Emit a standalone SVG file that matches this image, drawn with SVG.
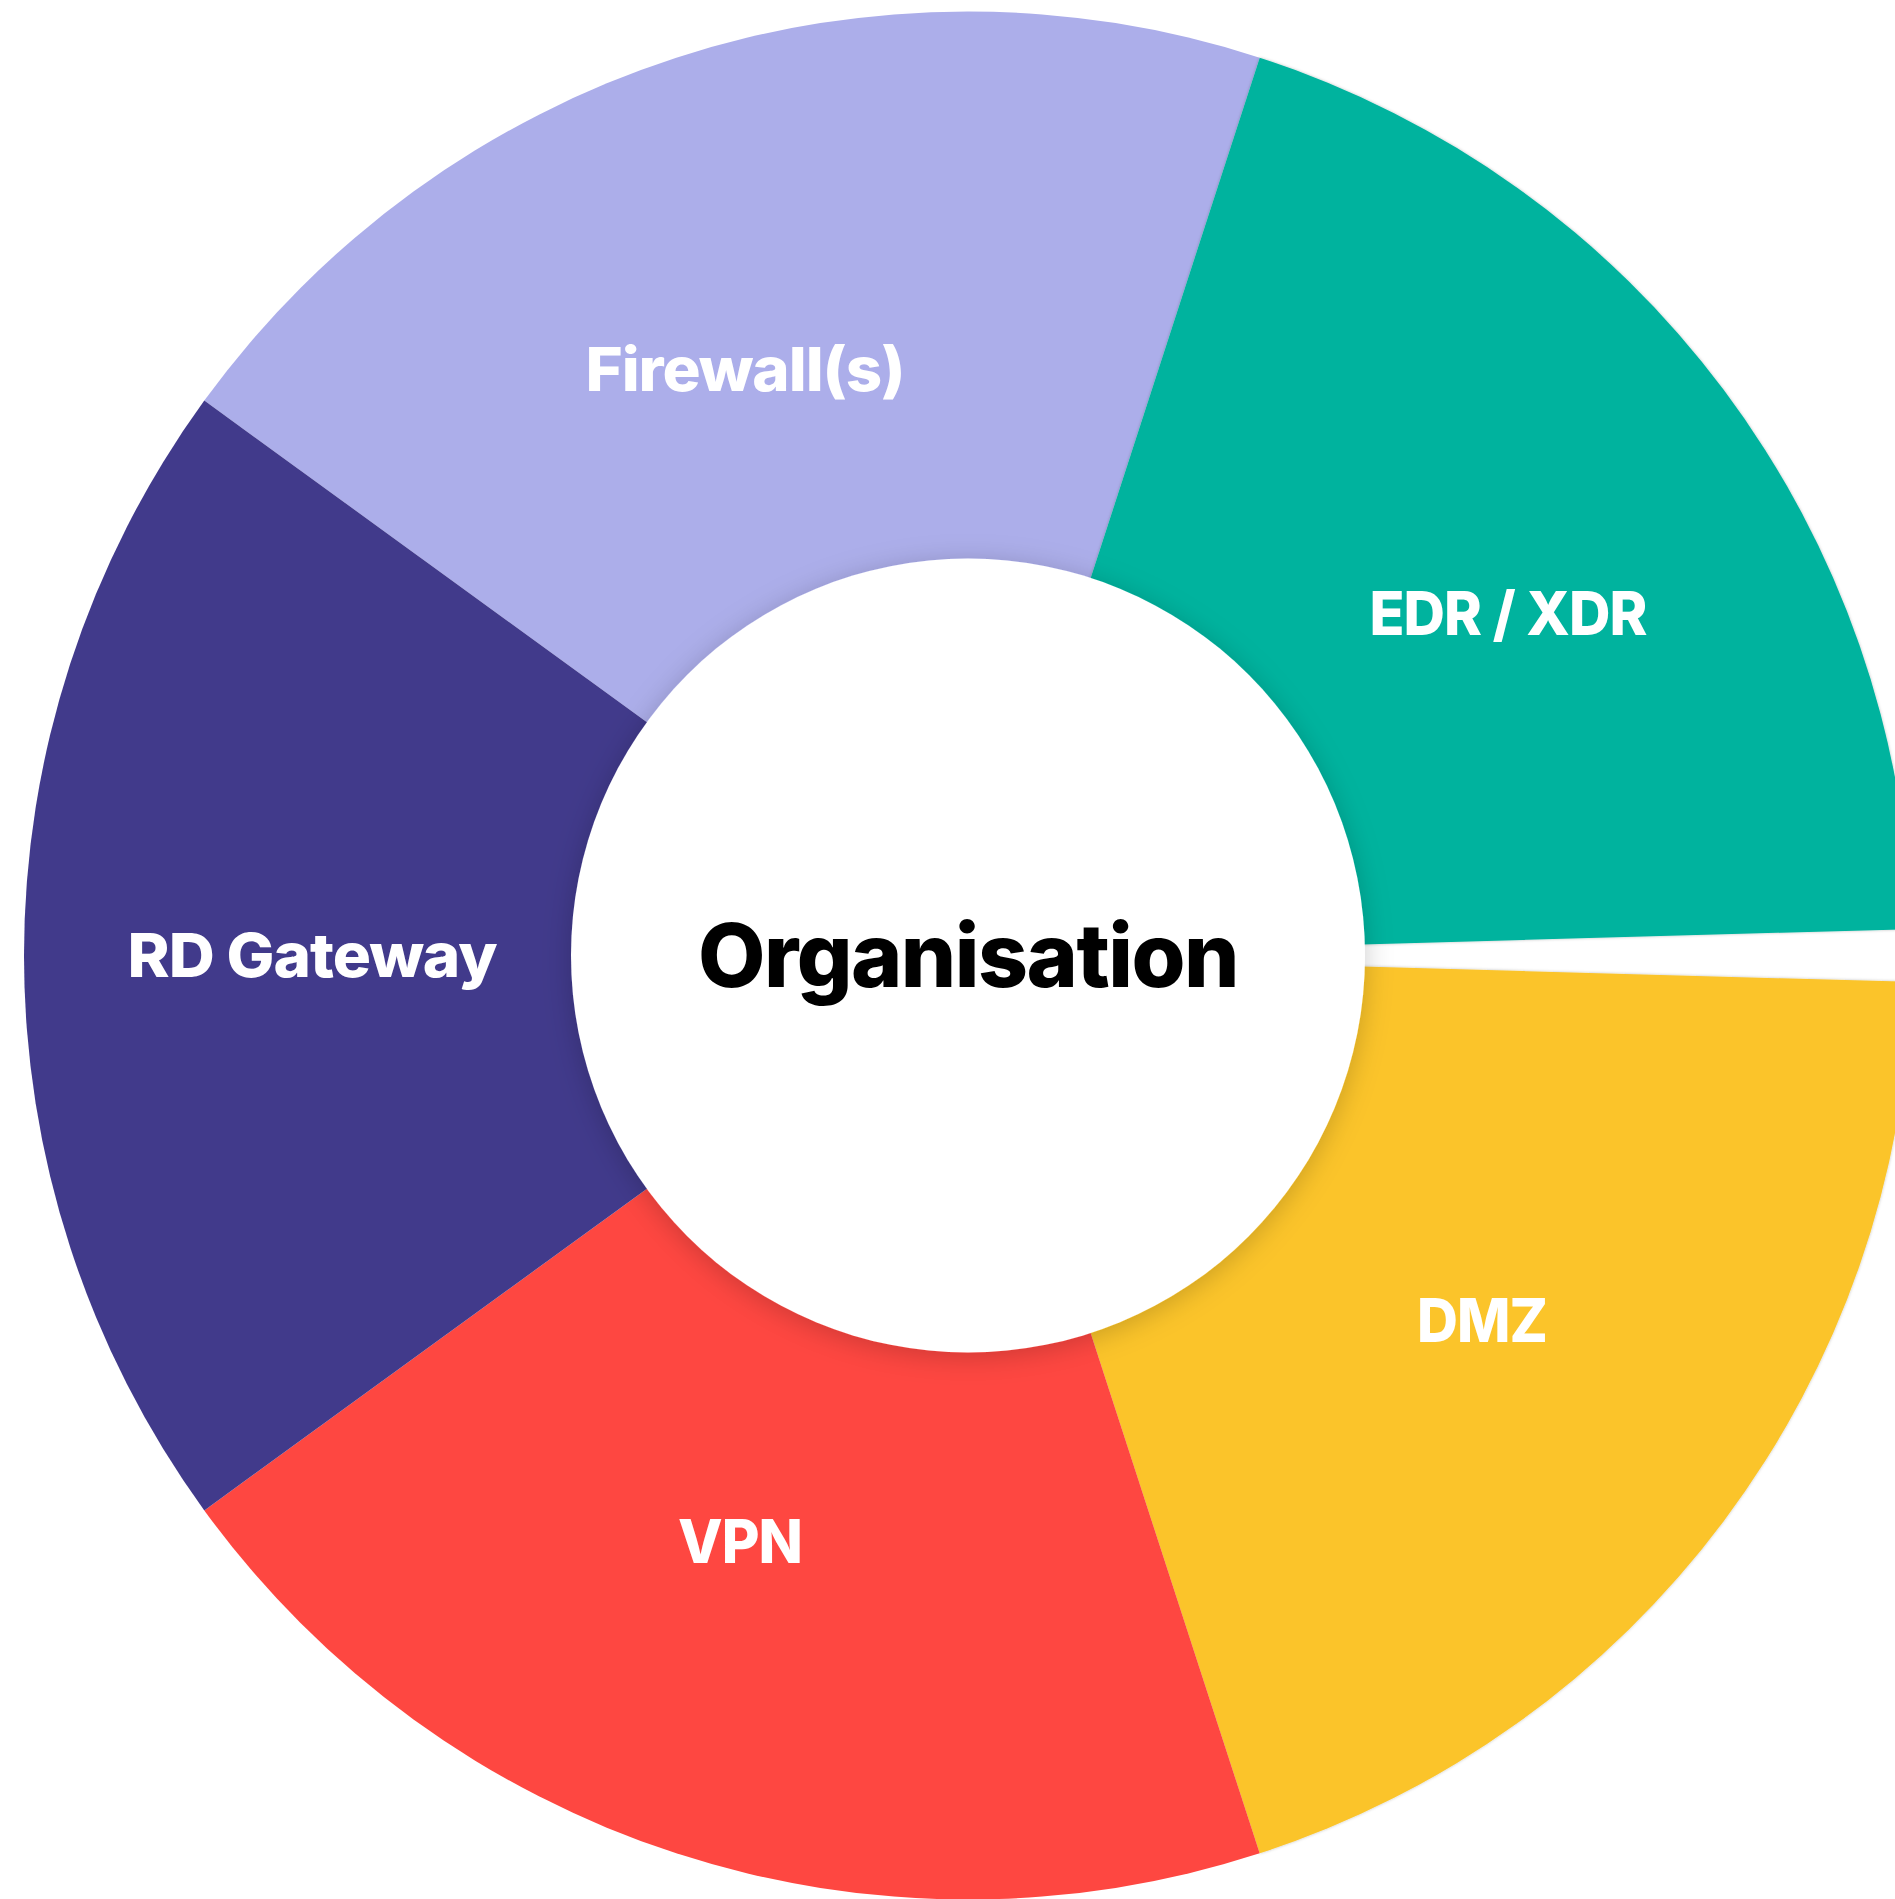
<svg xmlns="http://www.w3.org/2000/svg" width="1895" height="1899" viewBox="0 0 1895 1899">
  <defs>
    <filter id="shadow" x="-30%" y="-30%" width="160%" height="160%">
      <feDropShadow dx="0" dy="4" stdDeviation="14" flood-color="#000000" flood-opacity="0.2"/>
    </filter>
    <filter id="edge" x="-10%" y="-10%" width="120%" height="120%">
      <feDropShadow dx="0" dy="0" stdDeviation="1.5" flood-color="#000000" flood-opacity="0.25"/>
    </filter>
  </defs>
  <style>
    .label { font-family: Inter, "Liberation Sans", sans-serif; font-weight: 800; font-size: 61px; letter-spacing: -1px; fill: #ffffff; text-anchor: middle; }
    .center { font-family: Inter, "Liberation Sans", sans-serif; font-weight: 800; font-size: 88px; letter-spacing: -1.5px; fill: #000000; text-anchor: middle; }
  </style>
  <rect width="1895" height="1899" fill="#ffffff"/>

  <g id="firewall">
    <path d="M968,955.5 L204.3,400.6 A944,944 0 0 1 1259.7,57.7 Z" fill="#ACAEEA"/>
    <text class="label" x="745" y="391" textLength="319" lengthAdjust="spacingAndGlyphs">Firewall(s)</text>
  </g>

  <g id="edr-xdr">
    <path d="M968,955.5 L1259.7,57.7 A944,944 0 0 1 1911.6,929.1 Z" fill="#00B39E" filter="url(#edge)"/>
    <text class="label" x="1508" y="635" textLength="277" lengthAdjust="spacingAndGlyphs">EDR / XDR</text>
  </g>

  <g id="dmz">
    <path d="M968,955.5 L1911.6,981.9 A944,944 0 0 1 1259.7,1853.3 Z" fill="#FBC42B" filter="url(#edge)"/>
    <text class="label" x="1482" y="1342" textLength="130" lengthAdjust="spacingAndGlyphs">DMZ</text>
  </g>

  <g id="vpn">
    <path d="M968,955.5 L1259.7,1853.3 A944,944 0 0 1 204.3,1510.4 Z" fill="#FE4741"/>
    <text class="label" x="740" y="1563" textLength="124" lengthAdjust="spacingAndGlyphs">VPN</text>
  </g>

  <g id="rd-gateway">
    <path d="M968,955.5 L204.3,1510.4 A944,944 0 0 1 204.3,400.6 Z" fill="#413A8B"/>
    <text class="label" x="312" y="977" textLength="369" lengthAdjust="spacingAndGlyphs">RD Gateway</text>
  </g>

  <g id="organisation">
    <circle cx="968" cy="955.5" r="397" fill="#ffffff" filter="url(#shadow)"/>
    <text class="center" x="968" y="987" textLength="540" lengthAdjust="spacingAndGlyphs">Organisation</text>
  </g>
</svg>
